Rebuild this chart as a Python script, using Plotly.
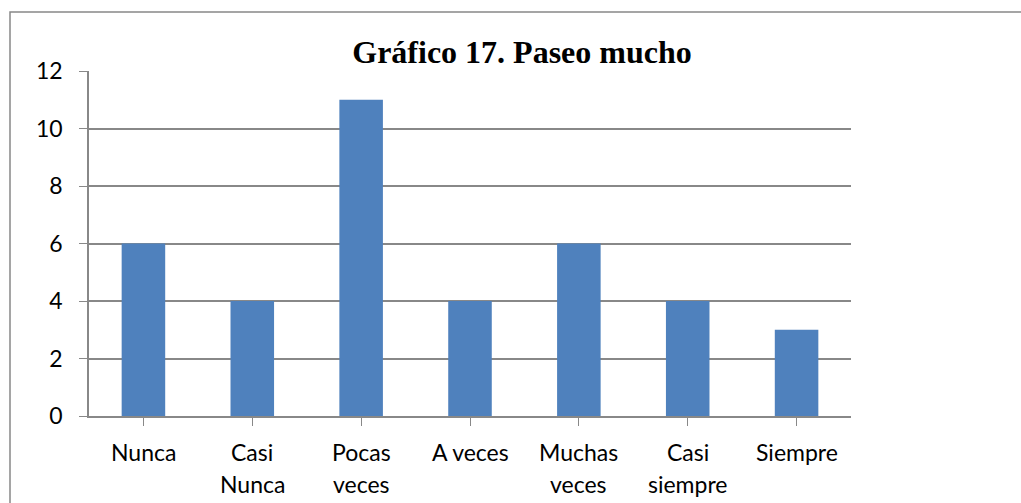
import plotly.graph_objects as go

categories = ["Nunca", "Casi<br>Nunca", "Pocas<br>veces", "A veces",
              "Muchas<br>veces", "Casi<br>siempre", "Siempre"]
values = [6, 4, 11, 4, 6, 4, 3]
y_ticks = [0, 2, 4, 6, 8, 10, 12]
title_text = "<b>Gráfico 17. Paseo mucho</b>"

W, H = 1021, 503
L, R, T, B = 89, 170, 71, 87
pw, ph = W - L - R, H - T - B

grey = "#888888"
blue = "#4F81BD"
tick_font = dict(family="Lato", size=23, color="black")

fig = go.Figure()
fig.add_trace(go.Bar(
    x=list(range(len(categories))), y=values,
    marker=dict(color=blue, line=dict(width=0)),
    showlegend=False,
))

# category labels, one annotation per line for Excel-like line spacing
for i, cat in enumerate(categories):
    for j, line in enumerate(cat.split("<br>")):
        fig.add_annotation(
            x=i, xref="x", y=0, yref="paper",
            text=line, showarrow=False,
            xanchor="center", yanchor="middle",
            yshift=-(36 + 32 * j),
            font=tick_font,
        )

# outer frame of the chart
fig.add_shape(
    type="rect", xref="paper", yref="paper",
    x0=(10 - L) / pw, x1=(W + 20 - L) / pw,
    y0=-(H + 20 - T - ph) / ph, y1=(H - B - 12) / ph,
    line=dict(color=grey, width=1.5), layer="below",
)

fig.update_xaxes(
    range=[-0.5, len(categories) - 0.5],
    tickmode="array", tickvals=list(range(len(categories))),
    showticklabels=False,
    ticks="outside", tickson="boundaries", ticklen=8, tickcolor=grey,
    showline=True, linecolor=grey, linewidth=1.5,
    showgrid=False, zeroline=False,
)
fig.update_yaxes(
    range=[0, 12], tickvals=y_ticks,
    ticks="outside", ticklen=8, tickcolor=grey,
    tickfont=tick_font, ticklabelstandoff=12,
    showline=True, linecolor=grey, linewidth=1.5,
    showgrid=True, gridcolor=grey, gridwidth=1.5,
    zeroline=False,
)
fig.update_layout(
    width=W, height=H,
    margin=dict(l=L, r=R, t=T, b=B),
    bargap=0.6,
    plot_bgcolor="white", paper_bgcolor="white",
    title=dict(
        text=title_text,
        font=dict(family="Liberation Serif", size=32, color="black"),
        x=522 / W, xanchor="center", xref="container",
        y=1 - 52 / H, yanchor="middle", yref="container",
    ),
)

fig.write_html("out.html",
               config={"displayModeBar": False},
               post_script="document.body.style.margin='0';")
